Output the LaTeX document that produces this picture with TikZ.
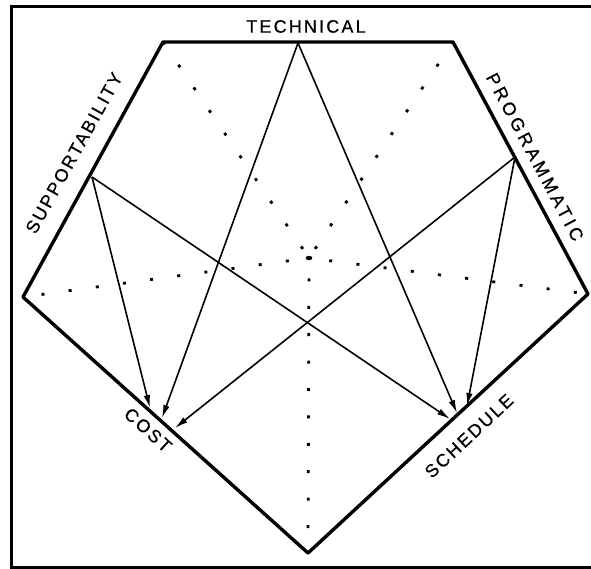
\documentclass[tikz,border=0pt]{standalone}
\usepackage{fontspec}
\newfontfamily\lettering{Liberation Sans}[LetterSpace=12.0,FakeBold=0.6]
\usetikzlibrary{arrows.meta}
\begin{document}
\begin{tikzpicture}[x=1pt,y=-1pt,
  rim/.style={line width=3.4pt,line join=round},
  spoke/.style={line width=2.8pt,dash pattern=on 3pt off 24.4pt,dash phase=7pt},
  link/.style={line width=1.6pt,-{Latex[length=13pt,width=6.5pt]}},
  lbl/.style={font=\lettering\fontsize{18}{18}\selectfont,inner sep=0pt}]
\useasboundingbox (0,0) rectangle (591,569);
% frame
\draw[line width=3pt] (591,7) -- (11,7) -- (11,567) -- (591,567);
% corners of the pentagon
\coordinate (tl) at (163,42);
\coordinate (tr) at (453,42);
\coordinate (r) at (588,294);
\coordinate (b) at (308,553);
\coordinate (l) at (23,297);
\coordinate (ctr) at (309,258);
% dotted spokes
\foreach \v in {l,r,b} \draw[spoke] (ctr) -- (\v);
\foreach \v in {tl,tr} \draw[spoke,dash phase=16.4pt] (ctr) -- (\v);
\fill (ctr) ellipse (3.4pt and 2.2pt);
% pentagon
\draw[rim] (tl) -- (tr) -- (r) -- (b) -- (l) -- cycle;
% labels
\node[lbl] (technical) at (306,26.5) {TECHNICAL};
\node[lbl,rotate=61] (supportability) at (74,153) {SUPPORTABILITY};
\node[lbl,rotate=-62] (programmatic) at (535,157) {\addfontfeature{LetterSpace=20.0}PROGRAMMATIC};
\node[lbl,rotate=-42] (cost) at (148,430) {COST};
\node[lbl,rotate=43] (schedule) at (469,436) {SCHEDULE};
% start and end points of the arrows
\coordinate (tech) at (298,43);
\coordinate (supp) at (92,177);
\coordinate (prog) at (515,157);
\coordinate (cost1) at (150,408);
\coordinate (cost2) at (162,418);
\coordinate (cost3) at (175,428);
\coordinate (sch1) at (450,419);
\coordinate (sch2) at (457,413);
\coordinate (sch3) at (467,406);
% arrows
\draw[link] (supp) -- (cost1);
\draw[link] (supp) -- (sch1);
\draw[link] (tech) -- (cost2);
\draw[link] (tech) -- (sch2);
\draw[link] (prog) -- (cost3);
\draw[link] (prog) -- (sch3);
\end{tikzpicture}
\end{document}
